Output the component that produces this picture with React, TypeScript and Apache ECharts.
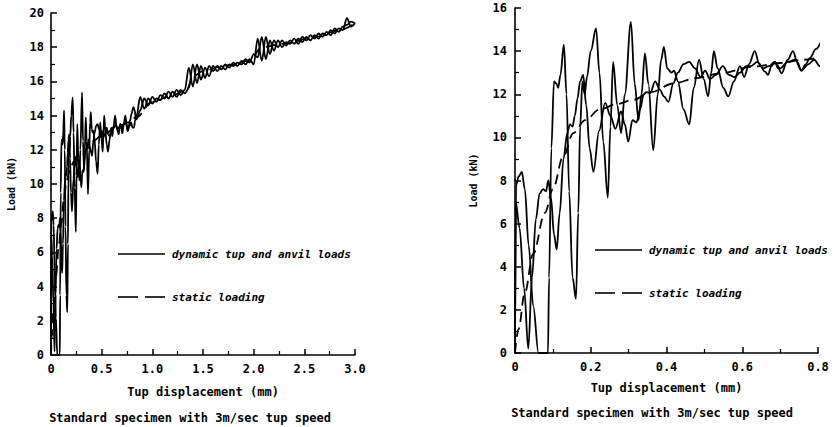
import React, { useEffect, useRef } from "react";
import * as echarts from "echarts";

// ---- data (Tup displacement in mm, Load in kN) ----
const tupNear: number[][] = [
  [0, 0], [0.003, 7.8], [0.01, 8.2], [0.018, 8.4], [0.026, 7.6], [0.036, 5.0], [0.048, 2.2], [0.062, 0], [0.087, 0],
  [0.09, 3.5], [0.096, 9.5], [0.103, 12.6], [0.109, 12.5], [0.114, 12.3], [0.12, 12.9], [0.129, 14.3], [0.136, 12.0],
  [0.143, 7.5], [0.152, 3.5], [0.161, 2.5], [0.167, 6.5], [0.172, 10.5], [0.178, 12.6], [0.184, 12.0], [0.19, 12.8],
  [0.2, 14.0], [0.214, 15.05], [0.223, 13.0], [0.233, 9.8], [0.245, 7.2], [0.252, 10.5], [0.259, 13.5], [0.27, 11.5],
  [0.28, 10.2], [0.29, 12.0], [0.306, 15.35], [0.316, 12.5], [0.326, 10.8], [0.334, 12.0], [0.343, 13.9], [0.352, 12.5],
  [0.365, 9.4], [0.377, 12.0], [0.386, 13.6], [0.393, 14.2], [0.402, 13.2], [0.413, 13.0], [0.42, 13.1], [0.43, 12.6],
  [0.445, 11.3], [0.46, 10.6], [0.472, 12.3], [0.486, 13.6], [0.498, 12.7], [0.51, 11.9], [0.518, 13.0], [0.525, 14.0],
  [0.535, 13.2], [0.55, 12.3], [0.563, 11.9], [0.578, 12.6], [0.594, 13.3], [0.605, 12.8], [0.618, 13.4], [0.633, 14.0],
  [0.645, 13.4], [0.66, 13.05], [0.668, 12.9], [0.677, 13.3], [0.686, 13.5], [0.695, 13.2], [0.704, 12.97], [0.72, 13.6],
  [0.734, 14.0], [0.745, 13.5], [0.756, 13.1], [0.768, 13.4], [0.778, 13.67], [0.795, 14.1], [0.813, 14.5], [0.827, 14.3],
  [0.836, 13.8], [0.845, 14.0],
];

const anvilNear: number[][] = [
  [0, 0], [0.002, 7.0], [0.012, 5.8], [0.024, 3.0], [0.035, 0.2], [0.045, 3.5], [0.055, 6.2], [0.065, 7.4], [0.074, 7.6],
  [0.082, 7.5], [0.088, 8.0], [0.095, 7.2], [0.103, 5.5], [0.11, 4.8], [0.118, 6.5], [0.128, 9.0], [0.138, 10.2],
  [0.145, 10.6], [0.152, 10.5], [0.158, 11.0], [0.165, 11.8], [0.172, 12.6], [0.18, 12.9], [0.188, 11.5], [0.197, 9.5],
  [0.207, 8.4], [0.222, 10.3], [0.238, 11.6], [0.252, 11.0], [0.265, 10.4], [0.28, 11.2], [0.29, 10.6], [0.299, 9.8],
  [0.31, 10.8], [0.321, 10.7], [0.33, 11.3], [0.34, 12.0], [0.347, 12.1], [0.357, 12.05], [0.37, 12.6], [0.383, 12.2],
  [0.393, 11.9], [0.405, 11.65], [0.418, 12.5], [0.43, 13.0], [0.445, 13.4], [0.46, 13.5], [0.475, 13.2], [0.49, 12.8],
  [0.502, 13.1], [0.515, 12.7], [0.53, 12.9], [0.549, 13.3], [0.565, 12.9], [0.58, 12.8], [0.594, 13.0], [0.61, 13.3],
  [0.622, 13.3], [0.64, 13.5], [0.655, 13.2], [0.67, 13.3], [0.686, 13.5], [0.7, 13.2], [0.72, 13.5], [0.74, 13.6],
  [0.756, 13.1], [0.775, 13.4], [0.79, 13.6], [0.805, 13.3], [0.82, 13.3], [0.83, 13.75], [0.845, 13.8],
];

const staticNear: number[][] = [
  [0, 0], [0.009, 1.1], [0.026, 2.8], [0.048, 4.6], [0.079, 6.5], [0.1, 7.6], [0.127, 9.1], [0.154, 10.2], [0.185, 10.8],
  [0.224, 11.3], [0.27, 11.55], [0.312, 11.75], [0.36, 12.1], [0.418, 12.5], [0.48, 12.75], [0.541, 12.97], [0.629, 13.28],
  [0.7, 13.45], [0.761, 13.6], [0.84, 13.9],
];

const farX: number[] = [
  0.88, 0.92, 0.96, 1.0, 1.04, 1.08, 1.12, 1.16, 1.2, 1.24, 1.28, 1.32, 1.36, 1.4, 1.44, 1.48, 1.52, 1.56, 1.6, 1.64,
  1.68, 1.72, 1.76, 1.8, 1.84, 1.88, 1.92, 1.96, 2.0, 2.04, 2.08, 2.12, 2.16, 2.2, 2.24, 2.28, 2.32, 2.36, 2.4, 2.44,
  2.48, 2.52, 2.56, 2.6, 2.64, 2.68, 2.72, 2.76, 2.8, 2.84, 2.88, 2.92, 2.96, 3.0,
];
const tupFarY: number[] = [
  15.1, 14.4, 15.0, 14.7, 15.0, 14.9, 15.3, 15.0, 15.4, 15.1, 15.5, 15.3, 15.6, 17.0, 15.9, 16.9, 16.2, 16.9, 16.6, 16.9,
  16.7, 17.0, 16.8, 17.1, 16.9, 17.2, 17.0, 17.3, 17.0, 18.5, 17.2, 18.6, 17.6, 18.4, 18.0, 18.4, 18.1, 18.4, 18.2, 18.5,
  18.3, 18.6, 18.4, 18.7, 18.5, 18.8, 18.7, 19.0, 18.8, 19.1, 19.0, 19.7, 19.2, 19.4,
];
const anvilFarY: number[] = [
  14.3, 15.0, 14.6, 15.1, 14.8, 15.2, 15.0, 15.4, 15.1, 15.5, 15.2, 15.5, 16.8, 15.7, 17.0, 16.1, 16.8, 16.3, 16.9, 16.6,
  16.9, 16.7, 17.0, 16.9, 17.1, 17.0, 17.3, 17.1, 17.6, 17.4, 18.6, 17.3, 18.4, 17.8, 18.4, 18.0, 18.3, 18.2, 18.5, 18.2,
  18.6, 18.4, 18.7, 18.5, 18.8, 18.6, 18.9, 18.7, 19.1, 18.9, 19.2, 19.3, 19.5, 19.4,
];
const staticFar: number[][] = [
  [1.0, 14.8], [1.2, 15.2], [1.34, 15.5], [1.4, 16.3], [1.5, 16.6], [1.7, 16.9], [1.96, 17.2], [2.08, 18.0], [2.3, 18.2],
  [2.6, 18.6], [2.85, 19.0], [3.0, 19.4],
];

const xName = "Tup displacement (mm)";
const yName = "Load (kN)";
const caption = "Standard specimen with 3m/sec tup speed";
const legendDynamic = "dynamic tup and anvil loads";
const legendStatic = "static loading";

const FONT = "'DejaVu Sans Mono', monospace";

export default function App() {
  const ref = useRef<HTMLDivElement>(null);
  useEffect(() => {
    if (!ref.current) return;
    const chart = echarts.init(ref.current, undefined, { renderer: "svg" });

    const tupAll = tupNear.concat(farX.map((x, i) => [x, tupFarY[i]]));
    const anvilAll = anvilNear.concat(farX.map((x, i) => [x, anvilFarY[i]]));
    const staticAll = staticNear.concat(staticFar);

    const axisCommon = {
      type: "value" as const,
      splitLine: { show: false },
      axisLine: { show: true, lineStyle: { color: "#000", width: 1.6 } },
      axisTick: { show: true, inside: true, length: 6, lineStyle: { color: "#000", width: 1.5 } },
      minorTick: { show: true, splitNumber: 2, length: 4, lineStyle: { color: "#000", width: 1.2 } },
      axisLabel: { color: "#000", fontFamily: FONT, fontWeight: "bold" as const, fontSize: 12 },
      nameTextStyle: { color: "#000", fontFamily: FONT, fontWeight: "bold" as const, fontSize: 12 },
    };

    const lineBase = (xi: number, data: number[][], dashed: boolean) => ({
      type: "line" as const,
      xAxisIndex: xi,
      yAxisIndex: xi,
      data,
      showSymbol: false,
      symbol: "none",
      smooth: 0.35,
      smoothMonotone: "x",
      clip: false,
      lineStyle: { color: "#000", width: 1.8, type: dashed ? [10, 6] : "solid" },
    });

    const legend = (x0: number, y0: number) => [
      { type: "line", shape: { x1: x0, y1: y0, x2: x0 + 47, y2: y0 }, style: { stroke: "#000", lineWidth: 1.6 } },
      { type: "line", shape: { x1: x0, y1: y0 + 43, x2: x0 + 20, y2: y0 + 43 }, style: { stroke: "#000", lineWidth: 1.6 } },
      { type: "line", shape: { x1: x0 + 27, y1: y0 + 43, x2: x0 + 47, y2: y0 + 43 }, style: { stroke: "#000", lineWidth: 1.6 } },
      {
        type: "text", x: x0 + 54, y: y0,
        style: { text: legendDynamic, fill: "#000", font: `italic bold 11px ${FONT}`, verticalAlign: "middle", align: "left" },
      },
      {
        type: "text", x: x0 + 54, y: y0 + 43,
        style: { text: legendStatic, fill: "#000", font: `italic bold 11px ${FONT}`, verticalAlign: "middle", align: "left" },
      },
    ];

    chart.setOption({
      animation: false,
      backgroundColor: "#fff",
      grid: [
        { left: 51, top: 13, right: 484, bottom: 72 },
        { left: 515, top: 8, right: 21, bottom: 74 },
      ],
      xAxis: [
        {
          ...axisCommon, gridIndex: 0, min: 0, max: 3, interval: 0.5,
          axisLabel: { ...axisCommon.axisLabel, margin: 8, formatter: (v: number) => (v === 0 ? "0" : v.toFixed(1)) },
          name: xName, nameLocation: "middle", nameGap: 31,
        },
        {
          ...axisCommon, gridIndex: 1, min: 0, max: 0.8, interval: 0.2,
          axisLabel: { ...axisCommon.axisLabel, margin: 8, formatter: (v: number) => (v === 0 ? "0" : v.toFixed(1)) },
          name: xName, nameLocation: "middle", nameGap: 29,
        },
      ],
      yAxis: [
        {
          ...axisCommon, gridIndex: 0, min: 0, max: 20, interval: 2,
          axisLabel: { ...axisCommon.axisLabel, margin: 7 },
          name: yName, nameLocation: "middle", nameGap: 35,
          nameTextStyle: { ...axisCommon.nameTextStyle, fontSize: 10 },
        },
        {
          ...axisCommon, gridIndex: 1, min: 0, max: 16, interval: 2,
          axisLabel: { ...axisCommon.axisLabel, margin: 8 },
          name: yName, nameLocation: "middle", nameGap: 37,
          nameTextStyle: { ...axisCommon.nameTextStyle, fontSize: 10 },
        },
      ],
      series: [
        lineBase(0, tupAll, false),
        lineBase(0, anvilAll, false),
        lineBase(0, staticAll, true),
        lineBase(1, tupNear, false),
        lineBase(1, anvilNear, false),
        lineBase(1, staticNear, true),
      ],
      graphic: [
        ...legend(118, 254),
        ...legend(595, 250),
        {
          type: "text", x: 190, y: 418,
          style: { text: caption, fill: "#000", font: `bold 12px ${FONT}`, align: "center", verticalAlign: "middle" },
        },
        {
          type: "text", x: 652, y: 413,
          style: { text: caption, fill: "#000", font: `bold 12px ${FONT}`, align: "center", verticalAlign: "middle" },
        },
      ],
    });
    return () => chart.dispose();
  }, []);
  return <div ref={ref} style={{ position: "fixed", left: 0, top: 0, width: 839, height: 427 }} />;
}
